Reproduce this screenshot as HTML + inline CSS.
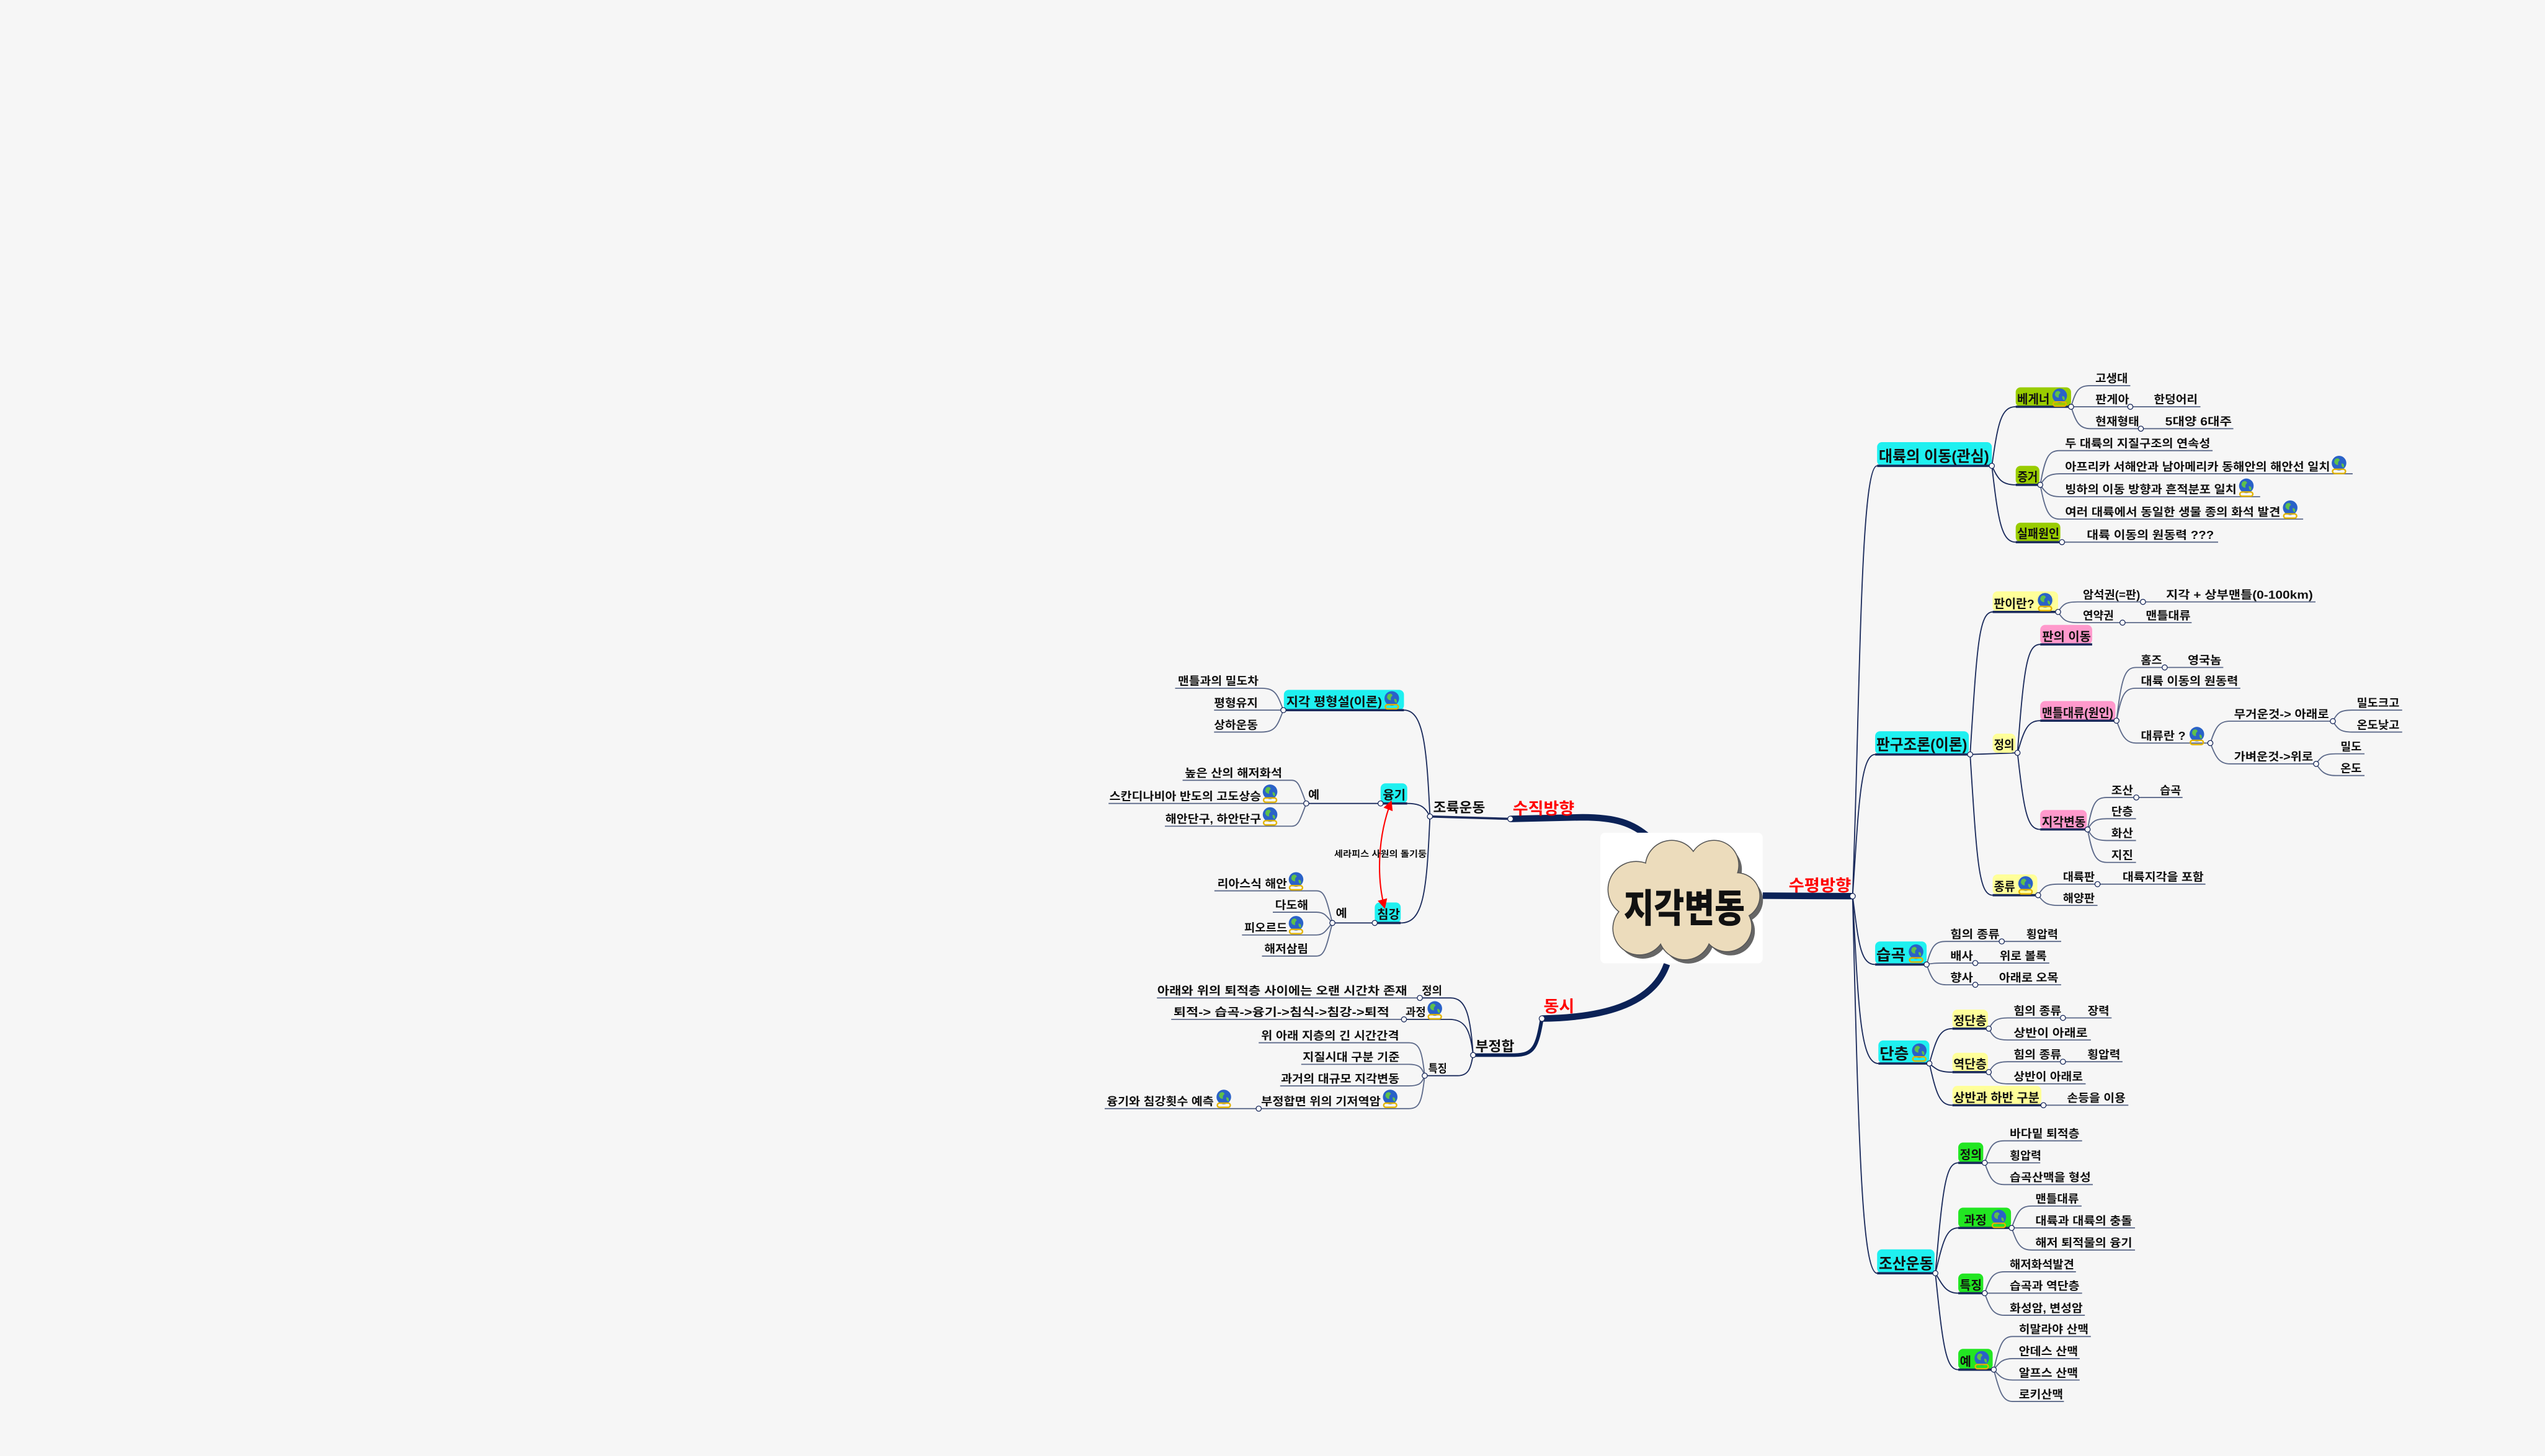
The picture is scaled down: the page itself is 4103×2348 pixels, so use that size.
<!DOCTYPE html>
<html><head><meta charset="utf-8">
<style>
html,body{margin:0;padding:0;background:#f6f6f6;}
svg{display:block;}
text{font-family:"Liberation Sans","Noto Sans CJK KR",sans-serif;fill:#111;font-size:7px;font-weight:bold;}
.b{font-size:7.5px;}
.L{font-size:9.5px;}
.r{fill:#ff0000;font-size:10px;}
.l{fill:none;stroke:#1b2b5c;stroke-width:0.7;}
.u{fill:none;stroke:#5d6a8a;stroke-width:0.7;}
.k{fill:none;stroke:#1b2b5c;stroke-width:1.4;}
.c{fill:#fff;stroke:#1b2b5c;stroke-width:0.5;}
</style></head><body>
<svg width="4103" height="2348" viewBox="0 0 1568 897" preserveAspectRatio="none" xmlns="http://www.w3.org/2000/svg">
<defs>
<g id="g">
<circle cx="5.5" cy="4.8" r="4.5" fill="#2a62c8"/>
<path d="M3,2.5 Q5,1 6,3 Q4.5,4 5,6 Q3,6 2.5,4 Z" fill="#5fc04a"/>
<path d="M7,5 Q9,5 8.5,7.5 Q7,7.5 7,5 Z" fill="#5fc04a"/>
<rect x="1.5" y="8.6" width="8" height="2.6" rx="1.3" fill="none" stroke="#e3b400" stroke-width="0.9"/>
</g>
<marker id="ah" markerWidth="6" markerHeight="6" refX="5" refY="3" orient="auto-start-reverse" markerUnits="userSpaceOnUse"><path d="M0,0 L6,3 L0,6 Z" fill="#ff0000"/></marker>
</defs>
<rect width="1568" height="897" fill="#f6f6f6"/>

<!-- main thick branches -->
<path d="M1086,551.8 L1141.4,552.1" fill="none" stroke="#0b2257" stroke-width="4"/>
<path d="M930.6,504.5 L975,503.5 C995,503.5 1006,507 1016,516" fill="none" stroke="#0b2257" stroke-width="4"/>
<path d="M950,627.5 C985,627 1018,620 1027,594" fill="none" stroke="#0b2257" stroke-width="4"/>
<path d="M950,627.5 C947,645 945,650 933,650 L907.6,650" fill="none" stroke="#0b2257" stroke-width="2.2"/>

<!-- center cloud -->
<rect x="986" y="513" width="100" height="80.5" rx="3" fill="#ffffff"/>
<g transform="translate(2.2,2.6)" fill="#666">
<circle cx="1008" cy="548" r="17"/><circle cx="1030" cy="534" r="16"/><circle cx="1056" cy="533" r="15"/><circle cx="1070" cy="552" r="14"/>
<circle cx="1010" cy="572" r="16"/><circle cx="1038" cy="575" r="16"/><circle cx="1064" cy="571" r="15"/><circle cx="1037" cy="555" r="22"/>
</g>
<g fill="#555">
<circle cx="1008" cy="548" r="17.6"/><circle cx="1030" cy="534" r="16.6"/><circle cx="1056" cy="533" r="15.6"/><circle cx="1070" cy="552" r="14.6"/>
<circle cx="1010" cy="572" r="16.6"/><circle cx="1038" cy="575" r="16.6"/><circle cx="1064" cy="571" r="15.6"/>
</g>
<g fill="#ecdcbc">
<circle cx="1008" cy="548" r="17"/><circle cx="1030" cy="534" r="16"/><circle cx="1056" cy="533" r="15"/><circle cx="1070" cy="552" r="14"/>
<circle cx="1010" cy="572" r="16"/><circle cx="1038" cy="575" r="16"/><circle cx="1064" cy="571" r="15"/><circle cx="1037" cy="555" r="22"/>
</g>
<text x="1000.4" y="568" style="font-size:24px;font-weight:900" textLength="74.6" lengthAdjust="spacingAndGlyphs">지각변동</text>

<!-- red labels -->
<text class="r" x="1102" y="549" textLength="38.5" lengthAdjust="spacingAndGlyphs">수평방향</text>
<text class="r" x="932" y="501.6" textLength="38" lengthAdjust="spacingAndGlyphs">수직방향</text>
<text class="r" x="951" y="623.5" textLength="19" lengthAdjust="spacingAndGlyphs">동시</text>

<!-- ============ LEFT: 수직방향 ============ -->
<path class="k" d="M930.6,504.5 L881,503"/>
<text class="b" style="font-size:8.5px" x="883" y="500.5" textLength="32" lengthAdjust="spacingAndGlyphs">조륙운동</text>
<path class="l" d="M881,503 C879,460 877,437.5 865,437.5"/>
<path class="l" d="M881,503 C878,497 875,495 867,495"/>
<path class="l" d="M881,503 C879,550 877,568.6 863,568.6"/>

<rect x="791" y="425" width="74" height="12.5" rx="3" fill="#1ff0f0"/>
<path class="k" d="M865,437.5 L790.7,437.5"/>
<text class="b" x="792.5" y="435" textLength="59" lengthAdjust="spacingAndGlyphs">지각 평형설(이론)</text>
<use href="#g" x="852" y="425.5"/>
<path class="u" d="M790.7,437.5 C787,428 786,424 777,424 L724,424"/>
<path class="u" d="M790.7,437.5 L748,437.5"/>
<path class="u" d="M790.7,437.5 C787,447 786,451 777,451 L748,451"/>
<text x="725.7" y="422" textLength="49.7" lengthAdjust="spacingAndGlyphs">맨틀과의 밀도차</text>
<text x="748" y="435.5" textLength="27" lengthAdjust="spacingAndGlyphs">평형유지</text>
<text x="748" y="449" textLength="27" lengthAdjust="spacingAndGlyphs">상하운동</text>
<circle class="c" cx="790.7" cy="437.5" r="1.6"/>

<rect x="850.6" y="482.6" width="16.4" height="12.4" rx="3" fill="#1ff0f0"/>
<path class="k" d="M867,495 L850.6,495"/>
<text class="b" x="852" y="492.5" textLength="14" lengthAdjust="spacingAndGlyphs">융기</text>
<path class="l" d="M850.6,495 L804.8,495"/>
<text x="806" y="492" textLength="7" lengthAdjust="spacingAndGlyphs">예</text>
<path class="u" d="M804.8,495 C801,485 800,480.7 796,480.7 L728.6,480.7"/>
<path class="u" d="M804.8,495 L683,495"/>
<path class="u" d="M804.8,495 C801,505 800,509 796,509 L717.7,509"/>
<text x="730" y="478.7" textLength="60" lengthAdjust="spacingAndGlyphs">높은 산의 해저화석</text>
<text x="683.5" y="493" textLength="93.5" lengthAdjust="spacingAndGlyphs">스칸디나비아 반도의 고도상승</text>
<use href="#g" x="777" y="483"/>
<text x="718" y="507" textLength="59" lengthAdjust="spacingAndGlyphs">해안단구, 하안단구</text>
<use href="#g" x="777" y="497"/>
<circle class="c" cx="804.8" cy="495" r="1.6"/>
<circle class="c" cx="850.6" cy="495" r="1.6"/>

<rect x="847" y="556" width="16" height="12.6" rx="3" fill="#1ff0f0"/>
<path class="k" d="M863,568.6 L847,568.6"/>
<text class="b" x="848.5" y="566" textLength="14" lengthAdjust="spacingAndGlyphs">침강</text>
<path class="l" d="M847,568.6 L820.9,568.6"/>
<text x="823" y="565" textLength="7" lengthAdjust="spacingAndGlyphs">예</text>
<path class="u" d="M820.9,568.6 C817,553 816,548.8 811,548.8 L748.2,548.8"/>
<path class="u" d="M820.9,568.6 C817,564 816,562 811,562 L784.2,562"/>
<path class="u" d="M820.9,568.6 C817,573 816,576 811,576 L765.2,576"/>
<path class="u" d="M820.9,568.6 C817,584 816,589 811,589 L777.5,589"/>
<text x="750" y="546.8" textLength="43" lengthAdjust="spacingAndGlyphs">리아스식 해안</text>
<use href="#g" x="793" y="537"/>
<text x="785.6" y="560" textLength="20.4" lengthAdjust="spacingAndGlyphs">다도해</text>
<text x="766.6" y="574" textLength="26.5" lengthAdjust="spacingAndGlyphs">피오르드</text>
<use href="#g" x="793" y="564"/>
<text x="779" y="587" textLength="27" lengthAdjust="spacingAndGlyphs">해저삼림</text>
<circle class="c" cx="820.9" cy="568.6" r="1.6"/>
<circle class="c" cx="847" cy="568.6" r="1.6"/>
<circle class="c" cx="881" cy="503" r="1.6"/>
<circle class="c" cx="930.6" cy="504.5" r="1.7"/>

<path d="M857,494 C849,515 848,540 853,559" fill="none" stroke="#ff0000" stroke-width="0.8" marker-start="url(#ah)" marker-end="url(#ah)"/>
<text x="822" y="528" style="font-size:5.5px" textLength="57" lengthAdjust="spacingAndGlyphs">세라피스 사원의 돌기둥</text>

<!-- ============ LEFT: 동시 ============ -->
<text class="b" style="font-size:8.5px" x="909" y="647.5" textLength="24" lengthAdjust="spacingAndGlyphs">부정합</text>
<path class="l" d="M907.6,650 C906,625 903,614.8 893.8,614.8 L874.8,614.8"/>
<path class="u" d="M874.8,614.8 L712.8,614.8"/>
<path class="l" d="M907.6,650 C906,635 903,628 893,628 L865,628"/>
<path class="u" d="M865,628 L721.6,628"/>
<path class="l" d="M907.6,650 C906,658 905,662.7 898,662.7 L877.8,662.7"/>
<text x="876" y="612.8" textLength="12.5" lengthAdjust="spacingAndGlyphs">정의</text>
<text x="713" y="612.8" textLength="154" lengthAdjust="spacingAndGlyphs">아래와 위의 퇴적층 사이에는 오랜 시간차 존재</text>
<text x="866" y="626" textLength="12.5" lengthAdjust="spacingAndGlyphs">과정</text>
<use href="#g" x="878.5" y="616.5"/>
<text x="723" y="626" textLength="133" lengthAdjust="spacingAndGlyphs">퇴적-&gt; 습곡-&gt;융기-&gt;침식-&gt;침강-&gt;퇴적</text>
<text x="880" y="660.7" textLength="11.5" lengthAdjust="spacingAndGlyphs">특징</text>
<path class="u" d="M877.8,662.7 C876,648 875,642.4 868,642.4 L775.5,642.4"/>
<path class="u" d="M877.8,662.7 C876,658 875,655.7 868,655.7 L801.7,655.7"/>
<path class="u" d="M877.8,662.7 C876,667 875,669 868,669 L788.7,669"/>
<path class="u" d="M877.8,662.7 C876,678 875,683 868,683 L775.5,683"/>
<path class="u" d="M775.5,683 L680.6,683"/>
<text x="777" y="640.4" textLength="85" lengthAdjust="spacingAndGlyphs">위 아래 지층의 긴 시간간격</text>
<text x="802.6" y="653.7" textLength="59.7" lengthAdjust="spacingAndGlyphs">지질시대 구분 기준</text>
<text x="789.2" y="667" textLength="73" lengthAdjust="spacingAndGlyphs">과거의 대규모 지각변동</text>
<text x="777" y="681" textLength="73.6" lengthAdjust="spacingAndGlyphs">부정합면 위의 기저역암</text>
<use href="#g" x="851" y="671"/>
<text x="681.8" y="681" textLength="66" lengthAdjust="spacingAndGlyphs">융기와 침강횟수 예측</text>
<use href="#g" x="748.5" y="671"/>
<circle class="c" cx="874.8" cy="614.8" r="1.6"/>
<circle class="c" cx="865" cy="628" r="1.6"/>
<circle class="c" cx="877.8" cy="662.7" r="1.6"/>
<circle class="c" cx="775.5" cy="683" r="1.6"/>
<circle class="c" cx="907.6" cy="650" r="1.6"/>
<circle class="c" cx="950" cy="627.5" r="1.7"/>

<!-- ============ RIGHT: 수평방향 ============ -->
<path class="l" d="M1141.4,552 C1146,430 1146,287 1156.5,287"/>
<path class="l" d="M1141.4,552 C1145,500 1146,464.8 1155.3,464.8"/>
<path class="l" d="M1141.4,552 C1145,580 1146,594.2 1155.3,594.2"/>
<path class="l" d="M1141.4,552 C1145,620 1146,655.2 1157.3,655.2"/>
<path class="l" d="M1141.4,552 C1145,700 1147,784.4 1156.5,784.4"/>

<!-- 대륙의 이동 -->
<rect x="1156.5" y="272.4" width="70.7" height="14.6" rx="3" fill="#1ff0f0"/>
<path class="k" d="M1156.5,287 L1227.2,287"/>
<text class="L" x="1157.5" y="284.5" textLength="68" lengthAdjust="spacingAndGlyphs">대륙의 이동(관심)</text>
<path class="l" d="M1227.2,287 C1231,260 1233,250.6 1241.9,250.6"/>
<path class="l" d="M1227.2,287 C1231,295 1233,298.7 1241.9,298.7"/>
<path class="l" d="M1227.2,287 C1231,320 1233,334 1241.9,334"/>
<rect x="1241.9" y="238.6" width="34.1" height="12" rx="3" fill="#99cc00"/>
<path class="k" d="M1241.9,250.6 L1276,250.6"/>
<text class="b" x="1242.8" y="248.5" textLength="20" lengthAdjust="spacingAndGlyphs">베게너</text>
<use href="#g" x="1263.5" y="239"/>
<path class="u" d="M1276,250.6 C1279,240 1281,237.6 1288,237.6 L1312.5,237.6"/>
<path class="u" d="M1276,250.6 L1355.7,250.6"/>
<path class="u" d="M1276,250.6 C1279,260 1281,264.1 1288,264.1 L1376,264.1"/>
<text x="1291" y="235.6" textLength="20" lengthAdjust="spacingAndGlyphs">고생대</text>
<text x="1291" y="248.6" textLength="20.8" lengthAdjust="spacingAndGlyphs">판게아</text>
<text x="1327" y="248.6" textLength="27" lengthAdjust="spacingAndGlyphs">한덩어리</text>
<text x="1291" y="262.1" textLength="27" lengthAdjust="spacingAndGlyphs">현재형태</text>
<text x="1334" y="262.1" textLength="41" lengthAdjust="spacingAndGlyphs">5대양 6대주</text>
<circle class="c" cx="1312.5" cy="250.6" r="1.6"/>
<circle class="c" cx="1319" cy="264.1" r="1.6"/>
<circle class="c" cx="1276" cy="250.6" r="1.6"/>

<rect x="1241.9" y="287" width="14.6" height="11.7" rx="3" fill="#99cc00"/>
<path class="k" d="M1241.9,298.7 L1257,298.7"/>
<text class="b" x="1243" y="296.5" textLength="12.5" lengthAdjust="spacingAndGlyphs">증거</text>
<path class="u" d="M1257,298.7 C1260,282 1262,277.6 1269,277.6 L1363.2,277.6"/>
<path class="u" d="M1257,298.7 C1260,294 1262,291.9 1269,291.9 L1449.5,291.9"/>
<path class="u" d="M1257,298.7 C1260,303 1262,306 1269,306 L1392.5,306"/>
<path class="u" d="M1257,298.7 C1260,314 1262,319.8 1269,319.8 L1419,319.8"/>
<text x="1272.3" y="275.6" textLength="89.5" lengthAdjust="spacingAndGlyphs">두 대륙의 지질구조의 연속성</text>
<text x="1272.3" y="289.9" textLength="163.3" lengthAdjust="spacingAndGlyphs">아프리카 서해안과 남아메리카 동해안의 해안선 일치</text>
<use href="#g" x="1435.6" y="280.5"/>
<text x="1272.3" y="304" textLength="105.7" lengthAdjust="spacingAndGlyphs">빙하의 이동 방향과 흔적분포 일치</text>
<use href="#g" x="1378.5" y="294.5"/>
<text x="1272.3" y="317.8" textLength="132.7" lengthAdjust="spacingAndGlyphs">여러 대륙에서 동일한 생물 종의 화석 발견</text>
<use href="#g" x="1405.5" y="308"/>
<circle class="c" cx="1257" cy="298.7" r="1.6"/>

<rect x="1241.9" y="322" width="27.5" height="12" rx="3" fill="#99cc00"/>
<path class="k" d="M1241.9,334 L1270.4,334"/>
<text class="b" x="1242.8" y="331.5" textLength="26" lengthAdjust="spacingAndGlyphs">실패원인</text>
<path class="u" d="M1270.4,334 L1366.6,334"/>
<text x="1285.7" y="332" textLength="78.3" lengthAdjust="spacingAndGlyphs">대륙 이동의 원동력 ???</text>
<circle class="c" cx="1270.4" cy="334" r="1.6"/>
<circle class="c" cx="1227.2" cy="287" r="1.6"/>

<!-- 판구조론 -->
<rect x="1155.3" y="450.5" width="57.7" height="14.3" rx="3" fill="#1ff0f0"/>
<path class="k" d="M1155.3,464.8 L1213.8,464.8"/>
<text class="L" x="1156" y="462" textLength="56" lengthAdjust="spacingAndGlyphs">판구조론(이론)</text>
<path class="l" d="M1213.8,464.8 C1218,400 1219,377 1227.7,377"/>
<path class="l" d="M1213.8,464.8 L1243,463.8"/>
<path class="l" d="M1213.8,464.8 C1218,530 1219,551.5 1227.7,551.5"/>

<rect x="1227.7" y="364.3" width="40.3" height="12.7" rx="3" fill="#ffff99"/>
<path class="k" d="M1227.7,377 L1268,377"/>
<text class="b" x="1228.4" y="374.5" textLength="25" lengthAdjust="spacingAndGlyphs">판이란?</text>
<use href="#g" x="1254.5" y="365"/>
<path class="u" d="M1268,377 C1271,372 1273,370.8 1280,370.8 L1426.6,370.8"/>
<path class="u" d="M1268,377 C1271,382 1273,383.6 1280,383.6 L1350.3,383.6"/>
<text x="1283.3" y="368.8" textLength="35.3" lengthAdjust="spacingAndGlyphs">암석권(=판)</text>
<text x="1334.5" y="368.8" textLength="90.5" lengthAdjust="spacingAndGlyphs">지각 + 상부맨틀(0-100km)</text>
<text x="1283.3" y="381.6" textLength="19" lengthAdjust="spacingAndGlyphs">연약권</text>
<text x="1322" y="381.6" textLength="27.6" lengthAdjust="spacingAndGlyphs">맨틀대류</text>
<circle class="c" cx="1320.3" cy="370.8" r="1.6"/>
<circle class="c" cx="1307.7" cy="383.6" r="1.6"/>
<circle class="c" cx="1268" cy="377" r="1.6"/>

<rect x="1227.7" y="452" width="14.1" height="11.8" rx="3" fill="#ffff99"/>
<text class="b" x="1228.5" y="461.5" textLength="12.5" lengthAdjust="spacingAndGlyphs">정의</text>
<path class="l" d="M1243,463.8 C1247,410 1249,397 1257,397"/>
<path class="l" d="M1243,463.8 C1247,450 1249,444 1257,444"/>
<path class="l" d="M1243,463.8 C1247,500 1249,511 1257,511"/>
<rect x="1257" y="385" width="32" height="12" rx="3" fill="#ff99cc"/>
<path class="k" d="M1257,397 L1289,397"/>
<text class="b" x="1258.2" y="394.8" textLength="30" lengthAdjust="spacingAndGlyphs">판의 이동</text>

<rect x="1257" y="431.9" width="46.3" height="12.1" rx="3" fill="#ff99cc"/>
<path class="k" d="M1257,444 L1304,444"/>
<text class="b" x="1258" y="441.8" textLength="44" lengthAdjust="spacingAndGlyphs">맨틀대류(원인)</text>
<path class="u" d="M1304,444 C1307,418 1309,411.2 1316,411.2 L1369.8,411.2"/>
<path class="u" d="M1304,444 C1307,428 1309,424 1316,424 L1380.3,424"/>
<path class="u" d="M1304,444 C1307,452 1309,457.8 1316,457.8 L1361.8,457.8"/>
<text x="1319" y="409.2" textLength="13" lengthAdjust="spacingAndGlyphs">홈즈</text>
<text x="1347.9" y="409.2" textLength="20.7" lengthAdjust="spacingAndGlyphs">영국놈</text>
<text x="1319" y="422" textLength="60" lengthAdjust="spacingAndGlyphs">대륙 이동의 원동력</text>
<text x="1319" y="455.8" textLength="27.6" lengthAdjust="spacingAndGlyphs">대류란 ?</text>
<use href="#g" x="1348" y="447.5"/>
<path class="u" d="M1361.8,457.8 C1365,448 1367,444.3 1374,444.3 L1437.3,444.3"/>
<path class="u" d="M1361.8,457.8 C1365,466 1367,470.6 1374,470.6 L1427,470.6"/>
<text x="1376.4" y="442.3" textLength="58.5" lengthAdjust="spacingAndGlyphs">무거운것-&gt; 아래로</text>
<text x="1376.4" y="468.6" textLength="48.7" lengthAdjust="spacingAndGlyphs">가벼운것-&gt;위로</text>
<path class="u" d="M1437.3,444.3 C1440,439 1442,437.5 1449,437.5 L1480,437.5"/>
<path class="u" d="M1437.3,444.3 C1440,449 1442,451 1449,451 L1480,451"/>
<text x="1452" y="435.5" textLength="26.3" lengthAdjust="spacingAndGlyphs">밀도크고</text>
<text x="1452" y="449" textLength="26.3" lengthAdjust="spacingAndGlyphs">온도낮고</text>
<path class="u" d="M1427,470.6 C1430,466 1432,464.4 1439,464.4 L1456.8,464.4"/>
<path class="u" d="M1427,470.6 C1430,475 1432,477.8 1439,477.8 L1456.8,477.8"/>
<text x="1442" y="462.4" textLength="13" lengthAdjust="spacingAndGlyphs">밀도</text>
<text x="1442" y="475.8" textLength="13" lengthAdjust="spacingAndGlyphs">온도</text>
<circle class="c" cx="1333.7" cy="411.2" r="1.6"/>
<circle class="c" cx="1361.8" cy="457.8" r="1.6"/>
<circle class="c" cx="1437.3" cy="444.3" r="1.6"/>
<circle class="c" cx="1427" cy="470.6" r="1.6"/>
<circle class="c" cx="1304" cy="444" r="1.6"/>

<rect x="1257" y="499" width="28.7" height="12" rx="3" fill="#ff99cc"/>
<path class="k" d="M1257,511 L1286.2,511"/>
<text class="b" x="1258" y="509" textLength="27" lengthAdjust="spacingAndGlyphs">지각변동</text>
<path class="u" d="M1286.2,511 C1289,495 1291,491.3 1298,491.3 L1344.7,491.3"/>
<path class="u" d="M1286.2,511 C1289,506 1291,504.4 1298,504.4 L1316,504.4"/>
<path class="u" d="M1286.2,511 C1289,516 1291,517.8 1298,517.8 L1316,517.8"/>
<path class="u" d="M1286.2,511 C1289,526 1291,531.3 1298,531.3 L1316,531.3"/>
<text x="1300.8" y="489.3" textLength="13.4" lengthAdjust="spacingAndGlyphs">조산</text>
<text x="1330.8" y="489.3" textLength="13" lengthAdjust="spacingAndGlyphs">습곡</text>
<text x="1300.8" y="502.4" textLength="13.4" lengthAdjust="spacingAndGlyphs">단층</text>
<text x="1300.8" y="515.8" textLength="13.4" lengthAdjust="spacingAndGlyphs">화산</text>
<text x="1300.8" y="529.3" textLength="13.4" lengthAdjust="spacingAndGlyphs">지진</text>
<circle class="c" cx="1316.2" cy="491.3" r="1.6"/>
<circle class="c" cx="1286.2" cy="511" r="1.6"/>
<circle class="c" cx="1243" cy="463.8" r="1.6"/>

<rect x="1227.7" y="538.7" width="27.5" height="12.6" rx="3" fill="#ffff99"/>
<path class="k" d="M1227.7,551.5 L1255.7,551.5"/>
<text class="b" x="1228.5" y="548.8" textLength="13" lengthAdjust="spacingAndGlyphs">종류</text>
<use href="#g" x="1242.5" y="539.5"/>
<path class="u" d="M1255.7,551.5 C1259,546 1261,544.7 1268,544.7 L1358.8,544.7"/>
<path class="u" d="M1255.7,551.5 C1259,556 1261,557.8 1268,557.8 L1292.3,557.8"/>
<text x="1271" y="542.7" textLength="19.6" lengthAdjust="spacingAndGlyphs">대륙판</text>
<text x="1307.7" y="542.7" textLength="50" lengthAdjust="spacingAndGlyphs">대륙지각을 포함</text>
<text x="1271" y="555.8" textLength="19.6" lengthAdjust="spacingAndGlyphs">해양판</text>
<circle class="c" cx="1292.3" cy="544.7" r="1.6"/>
<circle class="c" cx="1255.7" cy="551.5" r="1.6"/>
<circle class="c" cx="1213.8" cy="464.8" r="1.6"/>

<!-- 습곡 -->
<rect x="1155.3" y="580" width="31.7" height="14.2" rx="3" fill="#1ff0f0"/>
<path class="k" d="M1155.3,594.2 L1187,594.2"/>
<text class="L" x="1156" y="591.5" textLength="18" lengthAdjust="spacingAndGlyphs">습곡</text>
<use href="#g" x="1175" y="581.5"/>
<path class="u" d="M1187,594.2 C1190,583 1192,580 1199,580 L1269.9,580"/>
<path class="u" d="M1187,594.2 C1190,593.5 1192,593.3 1199,593.3 L1262.6,593.3"/>
<path class="u" d="M1187,594.2 C1190,603 1192,606.7 1199,606.7 L1269.9,606.7"/>
<text x="1201.6" y="578" textLength="30.4" lengthAdjust="spacingAndGlyphs">힘의 종류</text>
<text x="1248.4" y="578" textLength="19.6" lengthAdjust="spacingAndGlyphs">횡압력</text>
<text x="1201.6" y="591.3" textLength="14" lengthAdjust="spacingAndGlyphs">배사</text>
<text x="1232" y="591.3" textLength="29" lengthAdjust="spacingAndGlyphs">위로 볼록</text>
<text x="1201.6" y="604.7" textLength="14" lengthAdjust="spacingAndGlyphs">향사</text>
<text x="1231.6" y="604.7" textLength="36.6" lengthAdjust="spacingAndGlyphs">아래로 오목</text>
<circle class="c" cx="1233.3" cy="580" r="1.6"/>
<circle class="c" cx="1217" cy="593.3" r="1.6"/>
<circle class="c" cx="1217" cy="606.7" r="1.6"/>
<circle class="c" cx="1187" cy="594.2" r="1.6"/>

<!-- 단층 -->
<rect x="1157.3" y="641" width="31.4" height="14.2" rx="3" fill="#1ff0f0"/>
<path class="k" d="M1157.3,655.2 L1188.7,655.2"/>
<text class="L" x="1158" y="652.5" textLength="18" lengthAdjust="spacingAndGlyphs">단층</text>
<use href="#g" x="1177" y="642.5"/>
<path class="l" d="M1188.7,655.2 C1193,640 1195,633.7 1202.9,633.7"/>
<path class="l" d="M1188.7,655.2 C1193,659 1195,660.5 1202.9,660.5"/>
<path class="l" d="M1188.7,655.2 C1193,674 1195,680.9 1202.9,680.9"/>
<rect x="1202.9" y="622" width="21.9" height="11.7" rx="3" fill="#ffff99"/>
<path class="k" d="M1202.9,633.7 L1225.3,633.7"/>
<text class="b" x="1203.5" y="631.5" textLength="20.5" lengthAdjust="spacingAndGlyphs">정단층</text>
<path class="u" d="M1225.3,633.7 C1228,629 1230,627.1 1237,627.1 L1301,627.1"/>
<path class="u" d="M1225.3,633.7 C1228,639 1230,640.7 1237,640.7 L1288.2,640.7"/>
<text x="1240.6" y="625.1" textLength="29.4" lengthAdjust="spacingAndGlyphs">힘의 종류</text>
<text x="1286.2" y="625.1" textLength="13.4" lengthAdjust="spacingAndGlyphs">장력</text>
<text x="1240.6" y="638.7" textLength="45.6" lengthAdjust="spacingAndGlyphs">상반이  아래로</text>
<circle class="c" cx="1271" cy="627.1" r="1.6"/>
<circle class="c" cx="1225.3" cy="633.7" r="1.6"/>
<rect x="1202.9" y="648.6" width="21.9" height="11.9" rx="3" fill="#ffff99"/>
<path class="k" d="M1202.9,660.5 L1225.3,660.5"/>
<text class="b" x="1203.5" y="658.3" textLength="20.5" lengthAdjust="spacingAndGlyphs">역단층</text>
<path class="u" d="M1225.3,660.5 C1228,656 1230,654.1 1237,654.1 L1307.7,654.1"/>
<path class="u" d="M1225.3,660.5 C1228,666 1230,667.7 1237,667.7 L1285,667.7"/>
<text x="1240.6" y="652.1" textLength="29.4" lengthAdjust="spacingAndGlyphs">힘의 종류</text>
<text x="1286" y="652.1" textLength="20.4" lengthAdjust="spacingAndGlyphs">횡압력</text>
<text x="1240.6" y="665.7" textLength="42.7" lengthAdjust="spacingAndGlyphs">상반이 아래로</text>
<circle class="c" cx="1271" cy="654.1" r="1.6"/>
<circle class="c" cx="1225.3" cy="660.5" r="1.6"/>
<rect x="1202.9" y="669" width="54.8" height="11.9" rx="3" fill="#ffff99"/>
<path class="k" d="M1202.9,680.9 L1259,680.9"/>
<text class="b" x="1203.5" y="678.8" textLength="53" lengthAdjust="spacingAndGlyphs">상반과 하반 구분</text>
<path class="u" d="M1259,680.9 L1311.3,680.9"/>
<text x="1273.5" y="678.9" textLength="36.1" lengthAdjust="spacingAndGlyphs">손등을 이용</text>
<circle class="c" cx="1259" cy="680.9" r="1.6"/>
<circle class="c" cx="1188.7" cy="655.2" r="1.6"/>

<!-- 조산운동 -->
<rect x="1156.5" y="769.7" width="35.4" height="14.7" rx="3" fill="#1ff0f0"/>
<path class="k" d="M1156.5,784.4 L1192.4,784.4"/>
<text class="L" x="1157.5" y="781.8" textLength="33.5" lengthAdjust="spacingAndGlyphs">조산운동</text>
<path class="l" d="M1192.4,784.4 C1197,730 1199,716.4 1206.5,716.4"/>
<path class="l" d="M1192.4,784.4 C1197,765 1199,756.5 1206.5,756.5"/>
<path class="l" d="M1192.4,784.4 C1197,792 1199,796.7 1206.5,796.7"/>
<path class="l" d="M1192.4,784.4 C1197,830 1199,843.8 1206.5,843.8"/>

<rect x="1206.5" y="703.9" width="15.4" height="12.5" rx="3" fill="#22e622"/>
<path class="k" d="M1206.5,716.4 L1222.8,716.4"/>
<text class="b" x="1207.5" y="714" textLength="13.5" lengthAdjust="spacingAndGlyphs">정의</text>
<path class="u" d="M1222.8,716.4 C1226,706 1228,702.8 1235,702.8 L1282.8,702.8"/>
<path class="u" d="M1222.8,716.4 L1257,716.4"/>
<path class="u" d="M1222.8,716.4 C1226,726 1228,729.8 1235,729.8 L1289.4,729.8"/>
<text x="1238.2" y="700.8" textLength="43" lengthAdjust="spacingAndGlyphs">바다밑 퇴적층</text>
<text x="1238.2" y="714.4" textLength="19.5" lengthAdjust="spacingAndGlyphs">횡압력</text>
<text x="1238.2" y="727.8" textLength="50" lengthAdjust="spacingAndGlyphs">습곡산맥을 형성</text>
<circle class="c" cx="1222.8" cy="716.4" r="1.6"/>

<rect x="1206.5" y="744" width="32.5" height="12.5" rx="3" fill="#22e622"/>
<path class="k" d="M1206.5,756.5 L1239.4,756.5"/>
<text class="b" x="1210" y="754.3" textLength="14" lengthAdjust="spacingAndGlyphs">과정</text>
<use href="#g" x="1226" y="745"/>
<path class="u" d="M1239.4,756.5 C1243,746 1245,743 1252,743 L1282.5,743"/>
<path class="u" d="M1239.4,756.5 L1315.4,756.5"/>
<path class="u" d="M1239.4,756.5 C1243,767 1245,770.1 1252,770.1 L1315.4,770.1"/>
<text x="1254" y="741" textLength="26.8" lengthAdjust="spacingAndGlyphs">맨틀대류</text>
<text x="1254" y="754.5" textLength="59.7" lengthAdjust="spacingAndGlyphs">대륙과 대륙의 충돌</text>
<text x="1254" y="768.1" textLength="59.7" lengthAdjust="spacingAndGlyphs">해저 퇴적물의 융기</text>
<circle class="c" cx="1239.4" cy="756.5" r="1.6"/>

<rect x="1206.5" y="784.6" width="15.4" height="12.1" rx="3" fill="#22e622"/>
<path class="k" d="M1206.5,796.7 L1222.8,796.7"/>
<text class="b" x="1207.5" y="794.5" textLength="13.5" lengthAdjust="spacingAndGlyphs">특징</text>
<path class="u" d="M1222.8,796.7 C1226,787 1228,783.5 1235,783.5 L1279,783.5"/>
<path class="u" d="M1222.8,796.7 L1282.8,796.7"/>
<path class="u" d="M1222.8,796.7 C1226,806 1228,810.3 1235,810.3 L1284.5,810.3"/>
<text x="1238.2" y="781.5" textLength="39.7" lengthAdjust="spacingAndGlyphs">해저화석발견</text>
<text x="1238.2" y="794.7" textLength="43" lengthAdjust="spacingAndGlyphs">습곡과 역단층</text>
<text x="1238.2" y="808.3" textLength="45" lengthAdjust="spacingAndGlyphs">화성암, 변성암</text>
<circle class="c" cx="1222.8" cy="796.7" r="1.6"/>

<rect x="1206.5" y="831" width="21.2" height="12.8" rx="3" fill="#22e622"/>
<path class="k" d="M1206.5,843.8 L1228.4,843.8"/>
<text class="b" x="1207.5" y="841.5" textLength="7" lengthAdjust="spacingAndGlyphs">예</text>
<use href="#g" x="1215.5" y="832"/>
<path class="u" d="M1228.4,843.8 C1232,828 1234,823.4 1240,823.4 L1288.2,823.4"/>
<path class="u" d="M1228.4,843.8 C1232,839 1234,837 1240,837 L1281.3,837"/>
<path class="u" d="M1228.4,843.8 C1232,848 1234,850.2 1240,850.2 L1281.3,850.2"/>
<path class="u" d="M1228.4,843.8 C1232,858 1234,863.4 1240,863.4 L1271.6,863.4"/>
<text x="1243.8" y="821.4" textLength="43" lengthAdjust="spacingAndGlyphs">히말라야 산맥</text>
<text x="1243.8" y="835" textLength="36.5" lengthAdjust="spacingAndGlyphs">안데스 산맥</text>
<text x="1243.8" y="848.2" textLength="36.5" lengthAdjust="spacingAndGlyphs">알프스 산맥</text>
<text x="1243.8" y="861.4" textLength="27.3" lengthAdjust="spacingAndGlyphs">로키산맥</text>
<circle class="c" cx="1228.4" cy="843.8" r="1.6"/>
<circle class="c" cx="1192.4" cy="784.4" r="1.6"/>

<circle class="c" cx="1141.4" cy="552.1" r="1.7"/>
</svg>
</body></html>
